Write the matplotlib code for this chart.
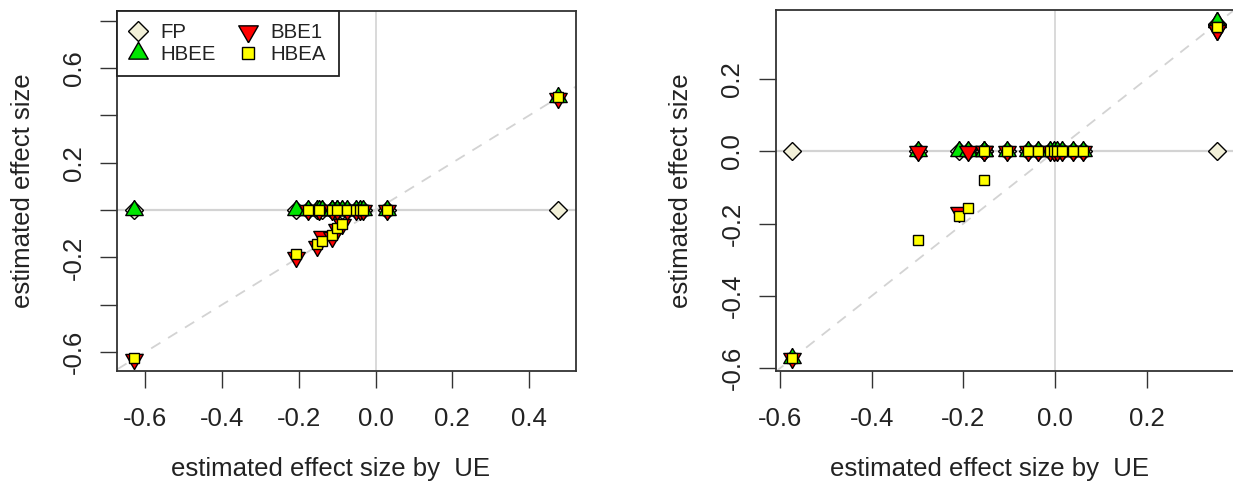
import matplotlib
matplotlib.use('Agg')
import matplotlib.pyplot as plt

plt.rcParams['font.family'] = ['Liberation Sans', 'DejaVu Sans']

# ── Data: left panel ──────────────────────────────────────────────────────────
ue_a   = [-0.628, -0.208, -0.176, -0.151, -0.147, -0.140, -0.113, -0.114, -0.100,
          -0.099, -0.087, -0.073, -0.050, -0.040, -0.032, 0.029, 0.476]
fp_a   = [0, 0, 0, 0, 0, 0, 0, 0, 0, 0, 0, 0, 0, 0, 0, 0, 0]
hbee_a = [0, 0, 0, 0, 0, 0, 0, 0, 0, 0, 0, 0, 0, 0, 0, 0, 0.478]
bbe1_a = [-0.628, -0.198, 0, -0.150, 0, -0.110, 0, -0.115, 0,
          -0.080, -0.060, 0, 0, 0, 0, 0, 0.472]
hbea_a = [-0.625, -0.187, 0, -0.145, 0, -0.131, 0, -0.103, 0,
          -0.074, -0.057, 0, 0, 0, 0, 0, 0.476]

# ── Data: right panel ─────────────────────────────────────────────────────────
ue_b   = [-0.573, -0.300, -0.209, -0.189, -0.156, -0.154, -0.104, -0.059, -0.038,
          -0.012, -0.002, 0.005, 0.015, 0.039, 0.062, 0.353, 0.353]
fp_b   = [0, 0, 0, 0, 0, 0, 0, 0, 0, 0, 0, 0, 0, 0, 0, 0.353, 0]
hbee_b = [-0.573, 0, 0, 0, 0, 0, 0, 0, 0, 0, 0, 0, 0, 0, 0, 0.357, 0.357]
bbe1_b = [-0.573, 0, -0.168, 0, 0, 0, 0, 0, 0, 0, 0, 0, 0, 0, 0, 0.335, 0.335]
hbea_b = [-0.573, -0.244, -0.180, -0.158, -0.080, 0, 0, 0, 0, 0, 0, 0, 0, 0, 0, 0.343, 0.343]

methods = ['FP', 'HBEE', 'BBE1', 'HBEA']

# R-like equilateral triangles (pch 24 / 25)
tri_up = [(0, 1), (-0.866, -0.5), (0.866, -0.5), (0, 1)]
tri_dn = [(0, -1), (-0.866, 0.5), (0.866, 0.5), (0, -1)]

styles = {
    'FP':   dict(marker='D',    ms=9,    mfc='#F2F0D8'),
    'HBEE': dict(marker=tri_up, ms=14.5, mfc='#00E600'),
    'BBE1': dict(marker=tri_dn, ms=14.5, mfc='#FF0000'),
    'HBEA': dict(marker='s',    ms=7.5,  mfc='#FFFF00'),
}

TICK_FS = 18.5
GRID_C = '#D3D3D3'


def panel(ax, ue, series, xlim, ylim, xticks, yticks, ylabels):
    ax.axhline(0, color=GRID_C, lw=1.6, zorder=1)
    ax.axvline(0, color=GRID_C, lw=1.2, zorder=1)
    ax.plot([-1, 1], [-1, 1], color=GRID_C, lw=1.3, ls=(0, (6, 5)), zorder=1)
    for m in methods:
        st = styles[m]
        ax.plot(ue, series[m], ls='none', marker=st['marker'], ms=st['ms'],
                mfc=st['mfc'], mec='black', mew=1.0, label=m, zorder=3)
    ax.set_xlim(*xlim)
    ax.set_ylim(*ylim)
    ax.set_xticks(xticks)
    ax.set_xticklabels([f'{t:.1f}' for t in xticks])
    ax.set_yticks(yticks)
    ax.set_yticklabels(ylabels, rotation=90, va='center')
    ax.tick_params(axis='both', length=12.2, width=1.0, color='#333333',
                   labelsize=TICK_FS, labelcolor='#222222')
    ax.tick_params(axis='x', pad=14)
    ax.tick_params(axis='y', pad=10.5)
    for s in ax.spines.values():
        s.set_linewidth(1.3)
        s.set_color('#333333')
    ax.set_xlabel('estimated effect size by  UE', fontsize=TICK_FS,
                  color='#222222', va='baseline')
    ax.xaxis.set_label_coords(0.4655, -0.2925)
    ax.set_ylabel('estimated effect size', fontsize=TICK_FS,
                  color='#222222', va='center', ha='center')
    ax.yaxis.set_label_coords(-0.2057, 0.5)


fig = plt.figure(figsize=(12.33, 4.82), dpi=100)

W, H = 1233.0, 482.0
ax1 = fig.add_axes([117.3 / W, 1 - 370.7 / H, (575.7 - 117.3) / W, (370.7 - 10.7) / H])
ax2 = fig.add_axes([776.0 / W, 1 - 370.7 / H, (1235.5 - 776.0) / W, (370.7 - 10.0) / H])

yt_a = [-0.6, -0.4, -0.2, 0.0, 0.2, 0.4, 0.6, 0.8]
yl_a = ['-0.6', '', '-0.2', '', '0.2', '', '0.6', '']
panel(ax1, ue_a, {'FP': fp_a, 'HBEE': hbee_a, 'BBE1': bbe1_a, 'HBEA': hbea_a},
      (-0.672, 0.521), (-0.678, 0.842),
      [-0.6, -0.4, -0.2, 0.0, 0.2, 0.4], yt_a, yl_a)

yt_b = [-0.6, -0.4, -0.2, 0.0, 0.2]
yl_b = ['-0.6', '-0.4', '-0.2', '0.0', '0.2']
panel(ax2, ue_b, {'FP': fp_b, 'HBEE': hbee_b, 'BBE1': bbe1_b, 'HBEA': hbea_b},
      (-0.609, 0.394), (-0.607, 0.391),
      [-0.6, -0.4, -0.2, 0.0, 0.2], yt_b, yl_b)

leg = ax1.legend(loc='upper left', bbox_to_anchor=(0, 1), borderaxespad=0,
                 ncol=2, fontsize=14.7, frameon=True, fancybox=False,
                 framealpha=1, edgecolor='#222222', borderpad=0.6,
                 labelspacing=0.15, handlelength=0.8, handletextpad=0.7,
                 columnspacing=1.2, markerscale=1.12)
leg.get_frame().set_linewidth(1.3)
for t in leg.get_texts():
    t.set_color('#222222')
leg.set_zorder(10)

plt.savefig('out.png', dpi=100)
plt.close()
